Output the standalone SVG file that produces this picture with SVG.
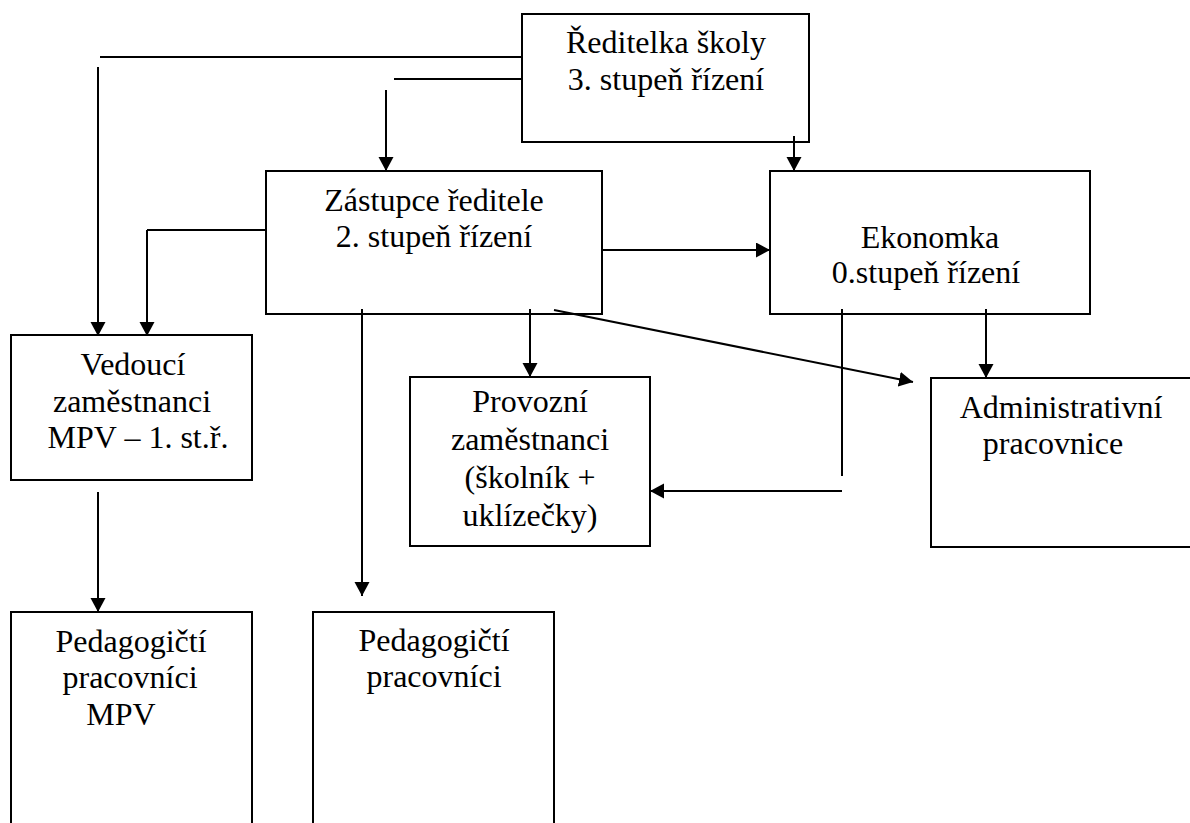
<svg xmlns="http://www.w3.org/2000/svg" width="1190" height="823" viewBox="0 0 1190 823">
<style>
.box{fill:#fff;stroke:#000;stroke-width:2}
.ln{fill:none;stroke:#000;stroke-width:2}
.arr{fill:none;stroke:#000;stroke-width:2;marker-end:url(#ah)}
.t{font-family:'Liberation Serif','DejaVu Serif',serif;font-size:32px;fill:#000;text-anchor:middle}
</style>
<defs>
<marker id="ah" markerUnits="userSpaceOnUse" markerWidth="15" markerHeight="16" refX="14" refY="7.5" orient="auto">
<path d="M0,0 L14,7.5 L0,15 z" fill="#000"/>
</marker>
</defs>
<rect width="1190" height="823" fill="#fff"/>
<g id="n-reditelka" class="t" font-family="Liberation Serif, serif">
<rect class="box" x="522" y="14" width="287" height="128"/>
<text x="666" y="53">Ředitelka školy</text>
<text x="666" y="90">3. stupeň řízení</text>
</g>
<g id="n-zastupce" class="t" font-family="Liberation Serif, serif">
<rect class="box" x="266" y="171" width="336" height="143"/>
<text x="434" y="211">Zástupce ředitele</text>
<text x="434" y="247">2. stupeň řízení</text>
</g>
<g id="n-ekonomka" class="t" font-family="Liberation Serif, serif">
<rect class="box" x="770" y="171" width="320" height="143"/>
<text x="930" y="248">Ekonomka</text>
<text x="926" y="283">0.stupeň řízení</text>
</g>
<g id="n-vedouci" class="t" font-family="Liberation Serif, serif">
<rect class="box" x="11" y="335" width="241" height="145"/>
<text x="133" y="375">Vedoucí</text>
<text x="132" y="412">zaměstnanci</text>
<text x="138" y="448">MPV – 1. st.ř.</text>
</g>
<g id="n-provozni" class="t" font-family="Liberation Serif, serif">
<rect class="box" x="410" y="377" width="240" height="169"/>
<text x="530" y="412">Provozní</text>
<text x="530" y="450">zaměstnanci</text>
<text x="530" y="488">(školník +</text>
<text x="530" y="526">uklízečky)</text>
</g>
<g id="n-admin" class="t" font-family="Liberation Serif, serif">
<rect class="box" x="931" y="378" width="270" height="169"/>
<text x="1061" y="418">Administrativní</text>
<text x="1053" y="454">pracovnice</text>
</g>
<g id="n-ped-mpv" class="t" font-family="Liberation Serif, serif">
<rect class="box" x="11" y="612" width="241" height="230"/>
<text x="131" y="652">Pedagogičtí</text>
<text x="130" y="688">pracovníci</text>
<text x="121" y="725">MPV</text>
</g>
<g id="n-ped" class="t" font-family="Liberation Serif, serif">
<rect class="box" x="313" y="612" width="241" height="230"/>
<text x="434" y="651">Pedagogičtí</text>
<text x="434" y="687">pracovníci</text>
</g>
<g id="connectors">
<line class="ln" x1="100" y1="57" x2="522" y2="57"/>
<line class="arr" x1="98" y1="67" x2="98" y2="336"/>
<line class="ln" x1="394" y1="79" x2="522" y2="79"/>
<line class="arr" x1="386" y1="90" x2="386" y2="171"/>
<line class="arr" x1="794" y1="136" x2="794" y2="171"/>
<line class="ln" x1="266" y1="230" x2="147" y2="230"/>
<line class="arr" x1="147" y1="230" x2="147" y2="336"/>
<line class="arr" x1="602" y1="250" x2="770" y2="250"/>
<line class="arr" x1="362" y1="309" x2="362" y2="596"/>
<line class="arr" x1="530" y1="309" x2="530" y2="377"/>
<line class="arr" x1="554" y1="310" x2="913" y2="382"/>
<line class="ln" x1="842" y1="309" x2="842" y2="476"/>
<line class="arr" x1="842" y1="491" x2="650" y2="491"/>
<line class="arr" x1="986" y1="309" x2="986" y2="378"/>
<line class="arr" x1="98" y1="492" x2="98" y2="612"/>
</g>
</svg>
